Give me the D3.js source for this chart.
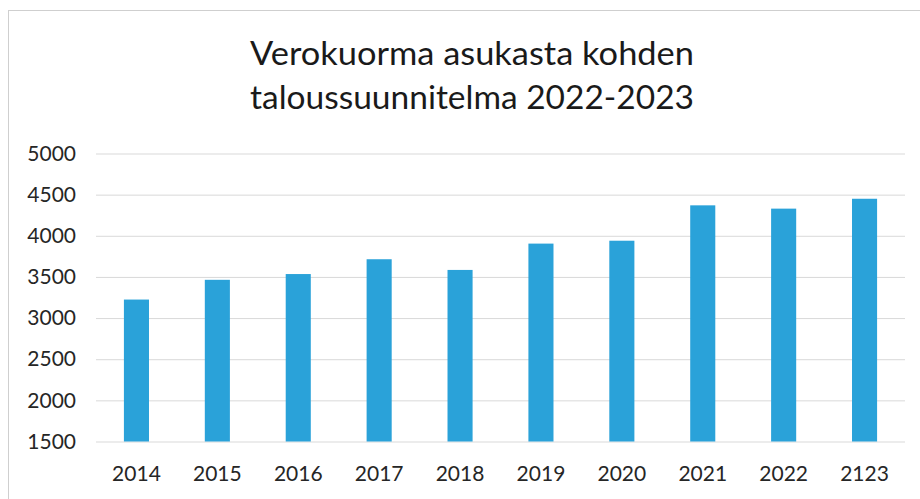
<!DOCTYPE html>
<html><head><meta charset="utf-8">
<script src="https://cdn.jsdelivr.net/npm/d3@7"></script>
<style>html,body{margin:0;padding:0;background:#fff;}svg{display:block;}</style>
</head><body>
<svg id="chart" width="920" height="499"></svg>
<script>
const titleLines = ["Verokuorma asukasta kohden", "taloussuunnitelma 2022-2023"];
const categories = ["2014","2015","2016","2017","2018","2019","2020","2021","2022","2123"];
const values = [3225, 3465, 3535, 3715, 3585, 3905, 3940, 4370, 4330, 4450];
const yTicks = [1500, 2000, 2500, 3000, 3500, 4000, 4500, 5000];

const svg = d3.select("#chart");
const W = 920, H = 499;
const m = {left: 96, right: 15, top: 153.5, bottom: 57.5};
const font = "Lato, 'Open Sans', sans-serif";

svg.append("rect").attr("width", W).attr("height", H).attr("fill", "#fff");
// chart frame
svg.append("rect").attr("x", 8.5).attr("y", 10.5).attr("width", W + 20).attr("height", H + 20)
  .attr("fill", "none").attr("stroke", "#cfcfcf").attr("stroke-width", 1);

const x = d3.scaleBand().domain(categories).range([m.left, W - m.right]).paddingInner(0.69).paddingOuter(0.345);
const y = d3.scaleLinear().domain([1500, 5000]).range([H - m.bottom, m.top]);

// gridlines + y labels
const yAxis = d3.axisLeft(y).tickValues(yTicks).tickSize(-(W - m.right - m.left)).tickPadding(20).tickFormat(d3.format("d"));
const gy = svg.append("g").attr("transform", `translate(${m.left},0)`).call(yAxis);
gy.select(".domain").remove();
gy.selectAll(".tick line").attr("stroke", "#d9d9d9").attr("stroke-width", 1);
gy.selectAll(".tick text").attr("fill", "#262626").style("font-family", font).style("font-size", "21px");

// bars
svg.append("g").selectAll("rect").data(values).join("rect")
  .attr("x", (d, i) => x(categories[i]))
  .attr("width", x.bandwidth())
  .attr("y", d => y(d))
  .attr("height", d => y(1500) - y(d))
  .attr("fill", "#2aa2d9");

// x axis
const xAxis = d3.axisBottom(x).tickSize(0).tickPadding(0);
const gx = svg.append("g").attr("transform", `translate(0,${y(1500)})`).call(xAxis);
gx.select(".domain").remove();
gx.selectAll(".tick text").attr("fill", "#262626").attr("y", 481 - y(1500)).attr("dy", 0)
  .style("font-family", font).style("font-size", "21px");

// title
const tg = svg.append("g");
const baselines = [65, 108.5];
titleLines.forEach((t, i) => {
  tg.append("text").attr("x", 472).attr("y", baselines[i]).attr("text-anchor", "middle")
    .attr("fill", "#1a1a1a").style("font-family", font).style("font-weight", 400).style("font-size", "33px")
    .attr("textLength", 444).attr("lengthAdjust", "spacingAndGlyphs").text(t);
});
</script>
</body></html>
